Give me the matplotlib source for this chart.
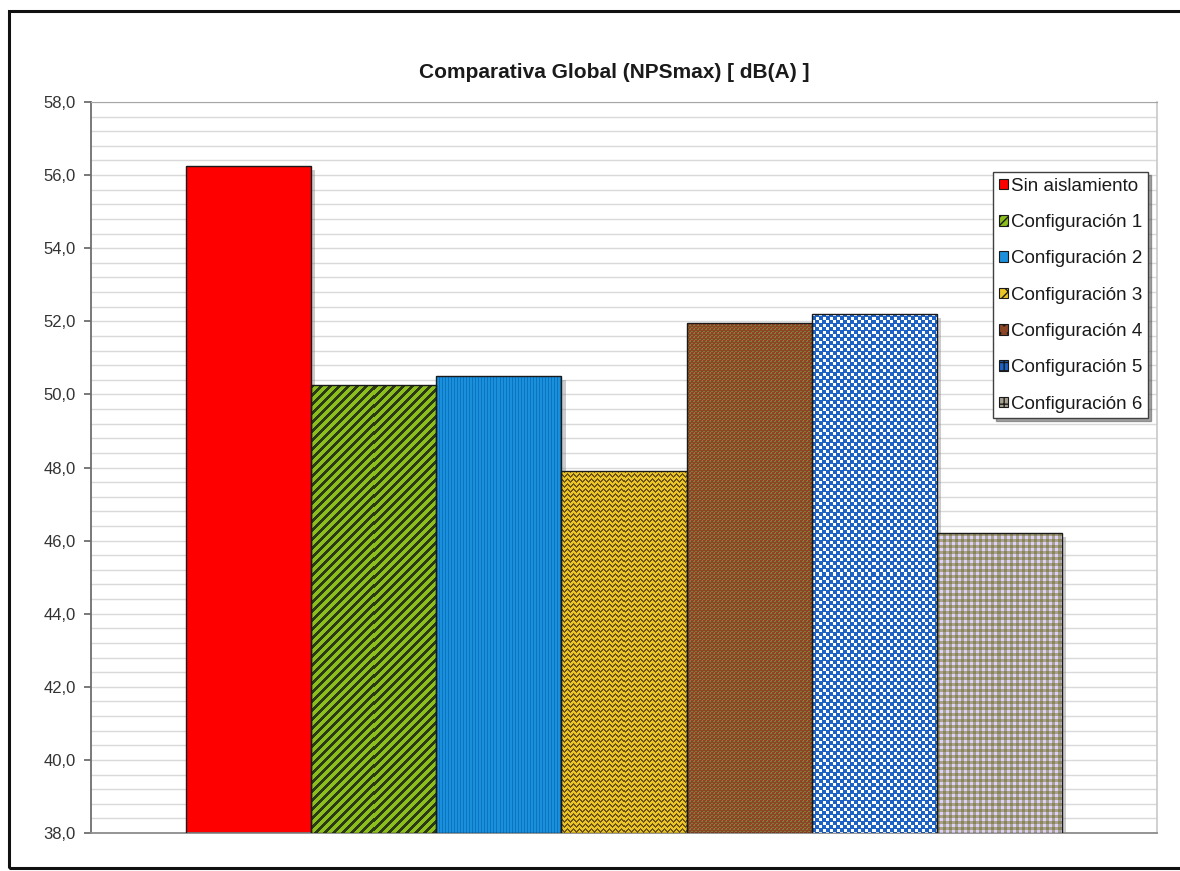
import numpy as np
import matplotlib
matplotlib.use("Agg")
import matplotlib.pyplot as plt
from matplotlib.patches import Patch, Rectangle
from matplotlib.ticker import FuncFormatter, MultipleLocator
import matplotlib.patheffects as pe
from matplotlib.colors import to_rgb

# ---------------- data ----------------
title = "Comparativa Global (NPSmax) [ dB(A) ]"
series = ["Sin aislamiento", "Configuración 1", "Configuración 2", "Configuración 3",
          "Configuración 4", "Configuración 5", "Configuración 6"]
values = [56.25, 50.25, 50.5, 47.9, 51.95, 52.2, 46.2]
y_min, y_max = 38.0, 58.0
major_step = 2.0
minor_step = 0.4

base_colors = ["#FF0000", "#8CBE1E", "#1A90DC", "#EBC425", "#8C4626", "#1E63C4", "#A8A090"]
textures = [None, "diag", "vert", "zigzag", "dots", "checker", "grid"]
legend_hatches = [None, "////", None, "xx", "..", "++", "++"]

plt.rcParams["font.family"] = ["Liberation Sans", "DejaVu Sans"]

fig = plt.figure(figsize=(11.8, 8.71), dpi=100)
ax = fig.add_axes([91 / 1180, 38 / 871, (1157 - 91) / 1180, (833 - 102) / 871])

x = np.arange(len(values))
heights = [v - y_min for v in values]
ax.set_xlim(-1.26, len(values) - 1 + 1.26)
ax.set_ylim(y_min, y_max)

# grid
ax.yaxis.set_major_locator(MultipleLocator(major_step))
ax.yaxis.set_minor_locator(MultipleLocator(minor_step))
ax.grid(which="both", axis="y", color="#D9D9D9", lw=1.0, zorder=0)
ax.set_axisbelow(True)

bars = ax.bar(x, heights, bottom=y_min, width=1.0, color=base_colors,
              edgecolor="none", zorder=2,
              path_effects=[pe.SimplePatchShadow(offset=(3, -3), shadow_rgbFace="#808080", alpha=0.4),
                            pe.Normal()])


def make_texture(kind, w, h, base):
    r = np.arange(h)[:, None] * np.ones((1, w), dtype=int)
    c = np.ones((h, 1), dtype=int) * np.arange(w)[None, :]
    img = np.ones((h, w, 3)) * np.array(to_rgb(base))
    def paint(mask, col):
        img[mask] = np.array(to_rgb(col))
    if kind == "diag":
        paint(((c + r) % 9) < 4, "#2B3A12")
    elif kind == "vert":
        paint((c % 3) == 0, "#0A74BE")
    elif kind == "zigzag":
        tri = np.abs((c % 6) - 3)
        paint(((r + tri) % 5) < 2, "#6E5418")
    elif kind == "dots":
        m = ((r % 4 == 0) & (c % 4 < 2)) | ((r % 4 == 2) & ((c + 2) % 4 < 2))
        paint(m, "#7E7C3A")
        m2 = ((r % 4 == 1) & ((c + 1) % 4 == 0))
        paint(m2, "#B0683A")
    elif kind == "checker":
        rr, cc = r % 7, c % 7
        paint(((rr < 3) & (cc < 3)) | ((rr >= 4) & (cc >= 4)), "#FFFFFF")
    elif kind == "grid":
        paint(((r % 6) < 3) & ((c % 6) < 3), "#8A8656")
        paint(((r % 6) >= 3) & ((c % 6) >= 3), "#DCD2F8")
    return img


fig.canvas.draw()
for b, kind, col in zip(bars, textures, base_colors):
    if kind is None:
        continue
    x0, y0 = b.get_x(), b.get_y()
    x1, y1 = x0 + b.get_width(), y0 + b.get_height()
    p0 = ax.transData.transform((x0, y0))
    p1 = ax.transData.transform((x1, y1))
    w = max(int(round(abs(p1[0] - p0[0]))), 1)
    h = max(int(round(abs(p1[1] - p0[1]))), 1)
    tex = make_texture(kind, w, h, col)
    im = ax.imshow(tex, extent=[x0, x1, y0, y1], origin="upper", aspect="auto",
                   interpolation="nearest", zorder=3)
    im.set_clip_path(b)

# outline bars on top
ax.bar(x, heights, bottom=y_min, width=1.0, fill=False, edgecolor="#1A1A1A", lw=1.0, zorder=4)
ax.set_xlim(-1.26, len(values) - 1 + 1.26)
ax.set_ylim(y_min, y_max)

# spines / ticks
ax.spines["left"].set_color("#6E6E6E")
ax.spines["left"].set_linewidth(1.3)
ax.spines["bottom"].set_color("#8C8C8C")
ax.spines["bottom"].set_linewidth(1.3)
ax.spines["top"].set_color("#A6A6A6")
ax.spines["right"].set_color("#C8C8C8")
ax.spines["right"].set_linewidth(1.2)
ax.set_xticks([])
ax.tick_params(axis="y", which="major", direction="out", length=5, width=1.3,
               color="#6E6E6E", labelsize=12, labelcolor="#333333", pad=6)
ax.tick_params(axis="y", which="minor", length=0)
ax.yaxis.set_major_formatter(FuncFormatter(lambda v, p: f"{v:.1f}".replace(".", ",")))

# legend
handles = [Patch(facecolor=c, edgecolor="#1A1A1A", hatch=hh, lw=0.8)
           for c, hh in zip(base_colors, legend_hatches)]
leg = ax.legend(handles, series, loc="upper right", bbox_to_anchor=(0.9916, 0.9042),
                borderaxespad=0, fontsize=13.5, handlelength=0.5, handleheight=0.5,
                handletextpad=0.15, labelspacing=1.03, borderpad=0.3, fancybox=False,
                shadow=True, framealpha=1, edgecolor="#404040")
leg.get_frame().set_linewidth(1.0)
leg.set_zorder(10)
for t in leg.get_texts():
    t.set_color("#1A1A1A")

# title
fig.text(614 / 1180, 1 - 73 / 871, title, ha="center", va="center",
         fontsize=15, fontweight="bold", color="#1A1A1A")

# outer frame
fig.patches.append(Rectangle((9 / 1180, 3 / 871), 1.2, 1 - 14 / 871, transform=fig.transFigure,
                             fill=False, edgecolor="#111111", lw=2.2))

fig.savefig("out.png", dpi=100)
